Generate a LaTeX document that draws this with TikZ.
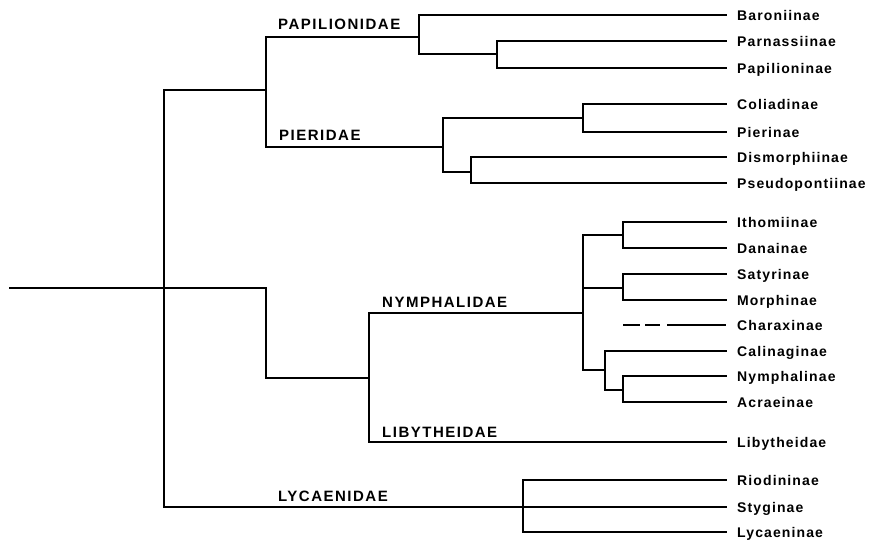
\documentclass[tikz,border=0pt]{standalone}
\usepackage		 {fontspec}
\usepackage		 {tikz	  }
\usetikzlibrary{calc,positioning}
\setmainfont{Liberation Sans}
\newfontfamily\leaffont{Liberation Sans}[LetterSpace=8]
\newfontfamily\famfont{Liberation Sans}[LetterSpace=10]

\begin{document}
\begin{tikzpicture}[x=1pt,y=-1pt]
  \tikzset{
  br/.style={line width=1.8pt,line cap=rect},
  leaf/.style={anchor=west,inner xsep=11pt,inner ysep=0pt,text height=10pt,text depth=0pt,font=\leaffont\bfseries\fontsize{14}{14}\selectfont},
  fam/.style={anchor=base west,inner sep=0pt,font=\famfont\bfseries\fontsize{15}{15}\selectfont},
  }
  \useasboundingbox (0,0) rectangle (881,539);

  % the taxa
  \node[leaf] (baro) at (726, 15) {Baroniinae};
  \node[leaf] (parn) at (726, 41) {Parnassiinae};
  \node[leaf] (papi) at (726, 68) {Papilioninae};
  \node[leaf] (coli) at (726,104) {Coliadinae};
  \node[leaf] (pier) at (726,132) {Pierinae};
  \node[leaf] (dism) at (726,157) {Dismorphiinae};
  \node[leaf] (pseu) at (726,183) {Pseudopontiinae};
  \node[leaf] (itho) at (726,222) {Ithomiinae};
  \node[leaf] (dana) at (726,248) {Danainae};
  \node[leaf] (saty) at (726,274) {Satyrinae};
  \node[leaf] (morp) at (726,300) {Morphinae};
  \node[leaf] (char) at (726,325) {Charaxinae};
  \node[leaf] (cali) at (726,351) {Calinaginae};
  \node[leaf] (nymp) at (726,376) {Nymphalinae};
  \node[leaf] (acra) at (726,402) {Acraeinae};
  \node[leaf] (liby) at (726,442) {Libytheidae};
  \node[leaf] (riod) at (726,480) {Riodininae};
  \node[leaf] (styg) at (726,507) {Styginae};
  \node[leaf] (lyca) at (726,532) {Lycaeninae};

  % the families
  \node[fam] (lpap) at (278, 29.5) {PAPILIONIDAE};
  \node[fam] (lpie) at (279,140) {PIERIDAE};
  \node[fam] (lnym) at (382,307) {NYMPHALIDAE};
  \node[fam] (llib) at (382,437) {LIBYTHEIDAE};
  \node[fam] (llyc) at (278,501) {LYCAENIDAE};

  % the forks
  \coordinate (root) at ( 10,288);
  \coordinate (big)  at (164,288);
  \coordinate (pp)   at (266, 90);
  \coordinate (nl)   at (266,288);
  \coordinate (nyli) at (369,378);
  \coordinate (pap)  at (419, 37);
  \coordinate (par)  at (497, 54);
  \coordinate (pie)  at (443,147);
  \coordinate (col)  at (583,118);
  \coordinate (dis)  at (471,172);
  \coordinate (nym)  at (583,313);
  \coordinate (ith)  at (623,235);
  \coordinate (sat)  at (623,288);
  \coordinate (cal)  at (605,370);
  \coordinate (nyp)  at (623,390);
  \coordinate (chx)  at (623,325);
  \coordinate (lyc)  at (523,507);

  % the branches
  \draw[br] (root) -- (nl) |- (nyli);
  \draw[br] (big) |- (pp);
  \draw[br] (big) |- (styg.west);
  \draw[br] (pp) |- (pap);
  \draw[br] (pp) |- (pie);
  \draw[br] (pap) |- (baro.west);
  \draw[br] (pap) |- (par);
  \draw[br] (par) |- (parn.west);
  \draw[br] (par) |- (papi.west);
  \draw[br] (pie) |- (col);
  \draw[br] (pie) |- (dis);
  \draw[br] (col) |- (coli.west);
  \draw[br] (col) |- (pier.west);
  \draw[br] (dis) |- (dism.west);
  \draw[br] (dis) |- (pseu.west);
  \draw[br] (nyli) |- (nym);
  \draw[br] (nyli) |- (liby.west);
  \draw[br] (nym) |- (ith);
  \draw[br] (nym) |- (sat);
  \draw[br] (nym) |- (cal);
  \draw[br] (ith) |- (itho.west);
  \draw[br] (ith) |- (dana.west);
  \draw[br] (sat) |- (saty.west);
  \draw[br] (sat) |- (morp.west);
  \draw[br] (cal) |- (cali.west);
  \draw[br] (cal) |- (nyp);
  \draw[br] (nyp) |- (nymp.west);
  \draw[br] (nyp) |- (acra.west);
  \draw[br,line cap=butt,dash pattern=on 17pt off 5pt on 15pt off 7pt on 70pt] (chx) -- (char.west);
  \draw[br] (lyc) |- (riod.west);
  \draw[br] (lyc) |- (lyca.west);
\end{tikzpicture}
\end{document}
